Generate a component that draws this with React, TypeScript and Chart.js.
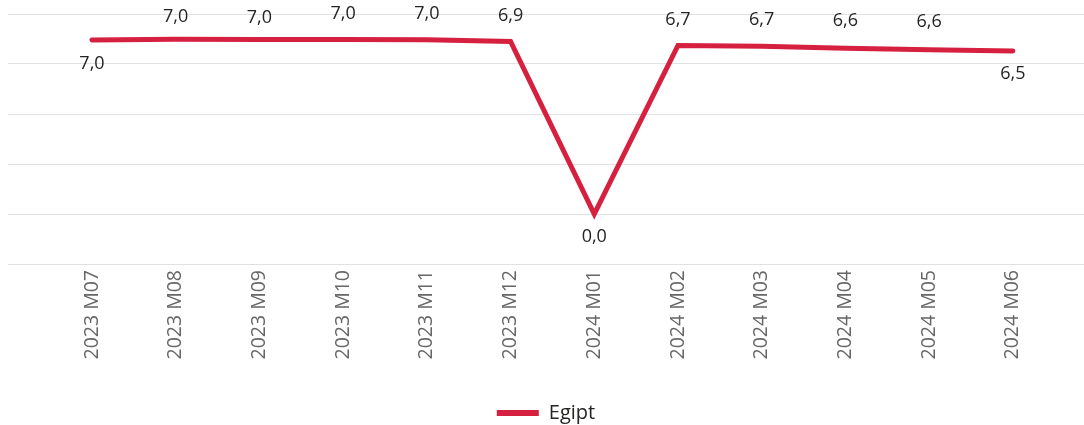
import React, { useEffect, useRef } from "react";
import { Chart, registerables } from "chart.js";

Chart.register(...registerables);

const categories = [
  "2023 M07", "2023 M08", "2023 M09", "2023 M10", "2023 M11", "2023 M12",
  "2024 M01", "2024 M02", "2024 M03", "2024 M04", "2024 M05", "2024 M06",
];
const egiptValues = [6.96, 6.99, 6.98, 6.98, 6.97, 6.9, 0.0, 6.74, 6.71, 6.63, 6.57, 6.52];
const seriesName = "Egipt";
const yGridTicks = [-2, 0, 2, 4, 6, 8];

const RED = "#D6203F";

const labelPlugin = {
  id: "pointLabels",
  afterDatasetsDraw(chart: any, _args: any, opts: any) {
    const ctx = chart.ctx;
    const meta = chart.getDatasetMeta(0);
    const ds = chart.data.datasets[0];
    ctx.save();
    ctx.font = opts.font;
    ctx.fillStyle = opts.color;
    ctx.textAlign = "center";
    ctx.textBaseline = "middle";
    meta.data.forEach((pt: any, i: number) => {
      const v = ds.data[i].y as number;
      const txt = v.toFixed(1).replace(".", ",");
      ctx.fillText(txt, pt.x, pt.y + (opts.offsets[i] ?? -24));
    });
    ctx.restore();
  },
};

export default function App() {
  const ref = useRef<HTMLCanvasElement | null>(null);
  useEffect(() => {
    if (!ref.current) return;
    const chart = new Chart(ref.current, {
      type: "line",
      data: {
        datasets: [
          {
            label: seriesName,
            data: egiptValues.map((y, i) => ({ x: i, y })),
            borderColor: RED,
            backgroundColor: RED,
            borderWidth: 5,
            borderCapStyle: "round",
            borderJoinStyle: "miter",
            pointRadius: 0,
            pointHoverRadius: 0,
            tension: 0,
          },
        ],
      },
      options: {
        animation: false,
        responsive: false,
        maintainAspectRatio: false,
        layout: { padding: { left: 8, right: 0, top: 14, bottom: -8 } },
        scales: {
          x: {
            type: "linear",
            min: -1.003,
            max: 11.85,
            grid: { display: false, drawTicks: false },
            border: { display: false },
            afterBuildTicks: (scale: any) => {
              scale.ticks = categories.map((_, i) => ({ value: i }));
            },
            afterFit: (scale: any) => {
              scale.height = 135;
            },
            ticks: {
              autoSkip: false,
              minRotation: 90,
              maxRotation: 90,
              padding: 6,
              color: "#666666",
              font: { family: "'Open Sans', sans-serif", size: 19.5 },
              callback: (v: any) => categories[v as number] ?? "",
            },
          },
          y: {
            min: -2,
            max: 8,
            afterBuildTicks: (scale: any) => {
              scale.ticks = yGridTicks.map((value) => ({ value }));
            },
            grid: { color: "#E1E1E1", lineWidth: 1, drawTicks: false },
            border: { display: false },
            ticks: { display: false },
          },
        },
        plugins: {
          legend: {
            position: "bottom",
            labels: {
              boxWidth: 42,
              boxHeight: 6,
              padding: 4,
              color: "#252423",
              font: { family: "'Open Sans', sans-serif", size: 20 },
              generateLabels: (c: any) =>
                c.data.datasets.map((d: any, i: number) => ({
                  text: d.label,
                  fillStyle: RED,
                  strokeStyle: RED,
                  lineWidth: 0,
                  datasetIndex: i,
                  fontColor: "#252423",
                })),
            },
          },
          tooltip: { enabled: false },
          pointLabels: {
            font: "18px 'Open Sans', sans-serif",
            color: "#252423",
            offsets: [24, -22, -22, -26, -26, -26, 23, -26, -26, -27, -28, 23],
          },
        } as any,
      },
      plugins: [labelPlugin],
    });
    return () => chart.destroy();
  }, []);
  return (
    <div style={{ position: "absolute", left: 0, top: 0, width: 1084, height: 425 }}>
      <canvas ref={ref} width={1084} height={425} style={{ width: 1084, height: 425 }} />
    </div>
  );
}
